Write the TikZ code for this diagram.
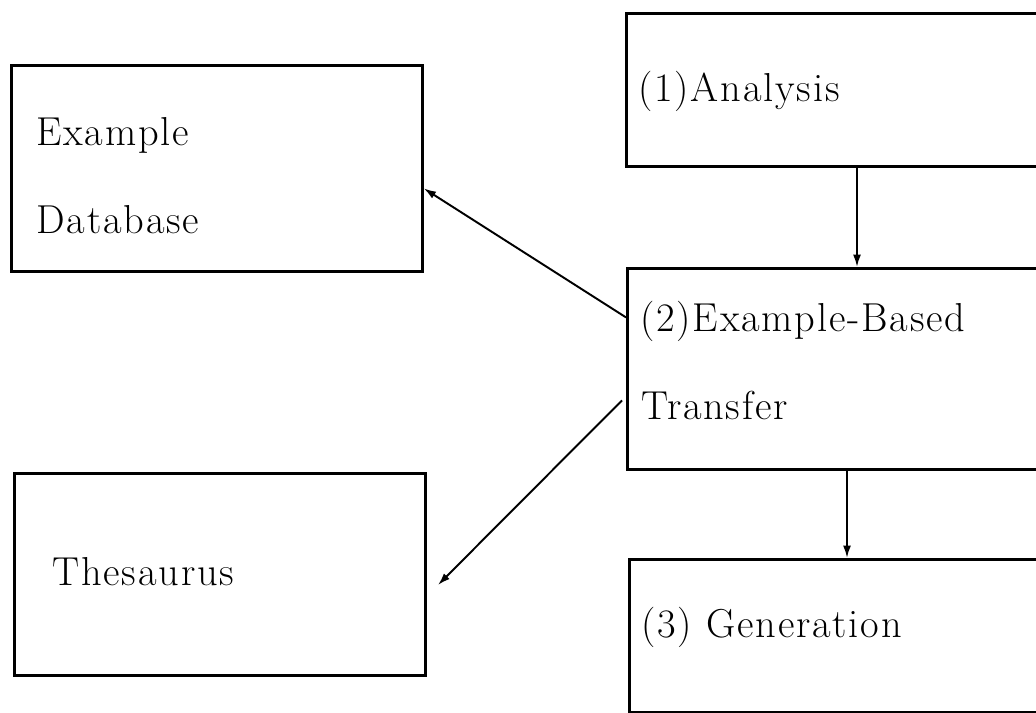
\documentclass[tikz,border=0pt]{standalone}
\usepackage{fontspec}
\setmainfont{Latin Modern Roman}[LetterSpace=4.5]
\usetikzlibrary{arrows.meta}
\begin{document}
\begin{tikzpicture}[x=0.02cm,y=-0.02cm,
  box/.style={draw,line width=1.6pt,rectangle,inner sep=0pt,anchor=north west},
  lbl/.style={anchor=base west,inner sep=0pt,font=\fontsize{23}{28}\selectfont},
  arr/.style={line width=1.1pt,-{Latex[length=7pt,width=4.5pt]}}]
\useasboundingbox (0,0) rectangle (1036,713);
% boxes
\node[box,minimum width=8.22cm,minimum height=4.12cm] (db)  at (10,64) {};
\node[box,minimum width=8.22cm,minimum height=4.04cm] (th)  at (13,472) {};
\node[box,minimum width=8.4cm,minimum height=3.06cm]  (ana) at (625,12) {};
\node[box,minimum width=8.4cm,minimum height=4.02cm]  (ebt) at (626,267) {};
\node[box,minimum width=8.4cm,minimum height=3.06cm]  (gen) at (628,558) {};
% labels
\node[lbl] (t1) at (36,146) {Example};
\node[lbl] (t2) at (36,234) {Database};
\node[lbl] (t3) at (52,585) {Thesaurus};
\node[lbl] (t4) at (638,102) {(1)Analysis};
\node[lbl] (t5) at (640,332) {(2)Example-Based};
\node[lbl] (t6) at (641,419) {Transfer};
\node[lbl] (t7) at (641,637) {(3) Generation};
% connectors
\coordinate (thTip) at (438,585);
\coordinate (xa) at (857,0);
\coordinate (xb) at (847,0);
\draw[arr] ([yshift=1.03cm]ebt.west) -- ([yshift=-0.4cm]db.east);
\draw[arr] ([xshift=-0.08cm,yshift=-0.63cm]ebt.west) -- (thTip);
\draw[arr] (ana.south -| xa) -- (ebt.north -| xa);
\draw[arr] (ebt.south -| xb) -- (gen.north -| xb);
\end{tikzpicture}
\end{document}
